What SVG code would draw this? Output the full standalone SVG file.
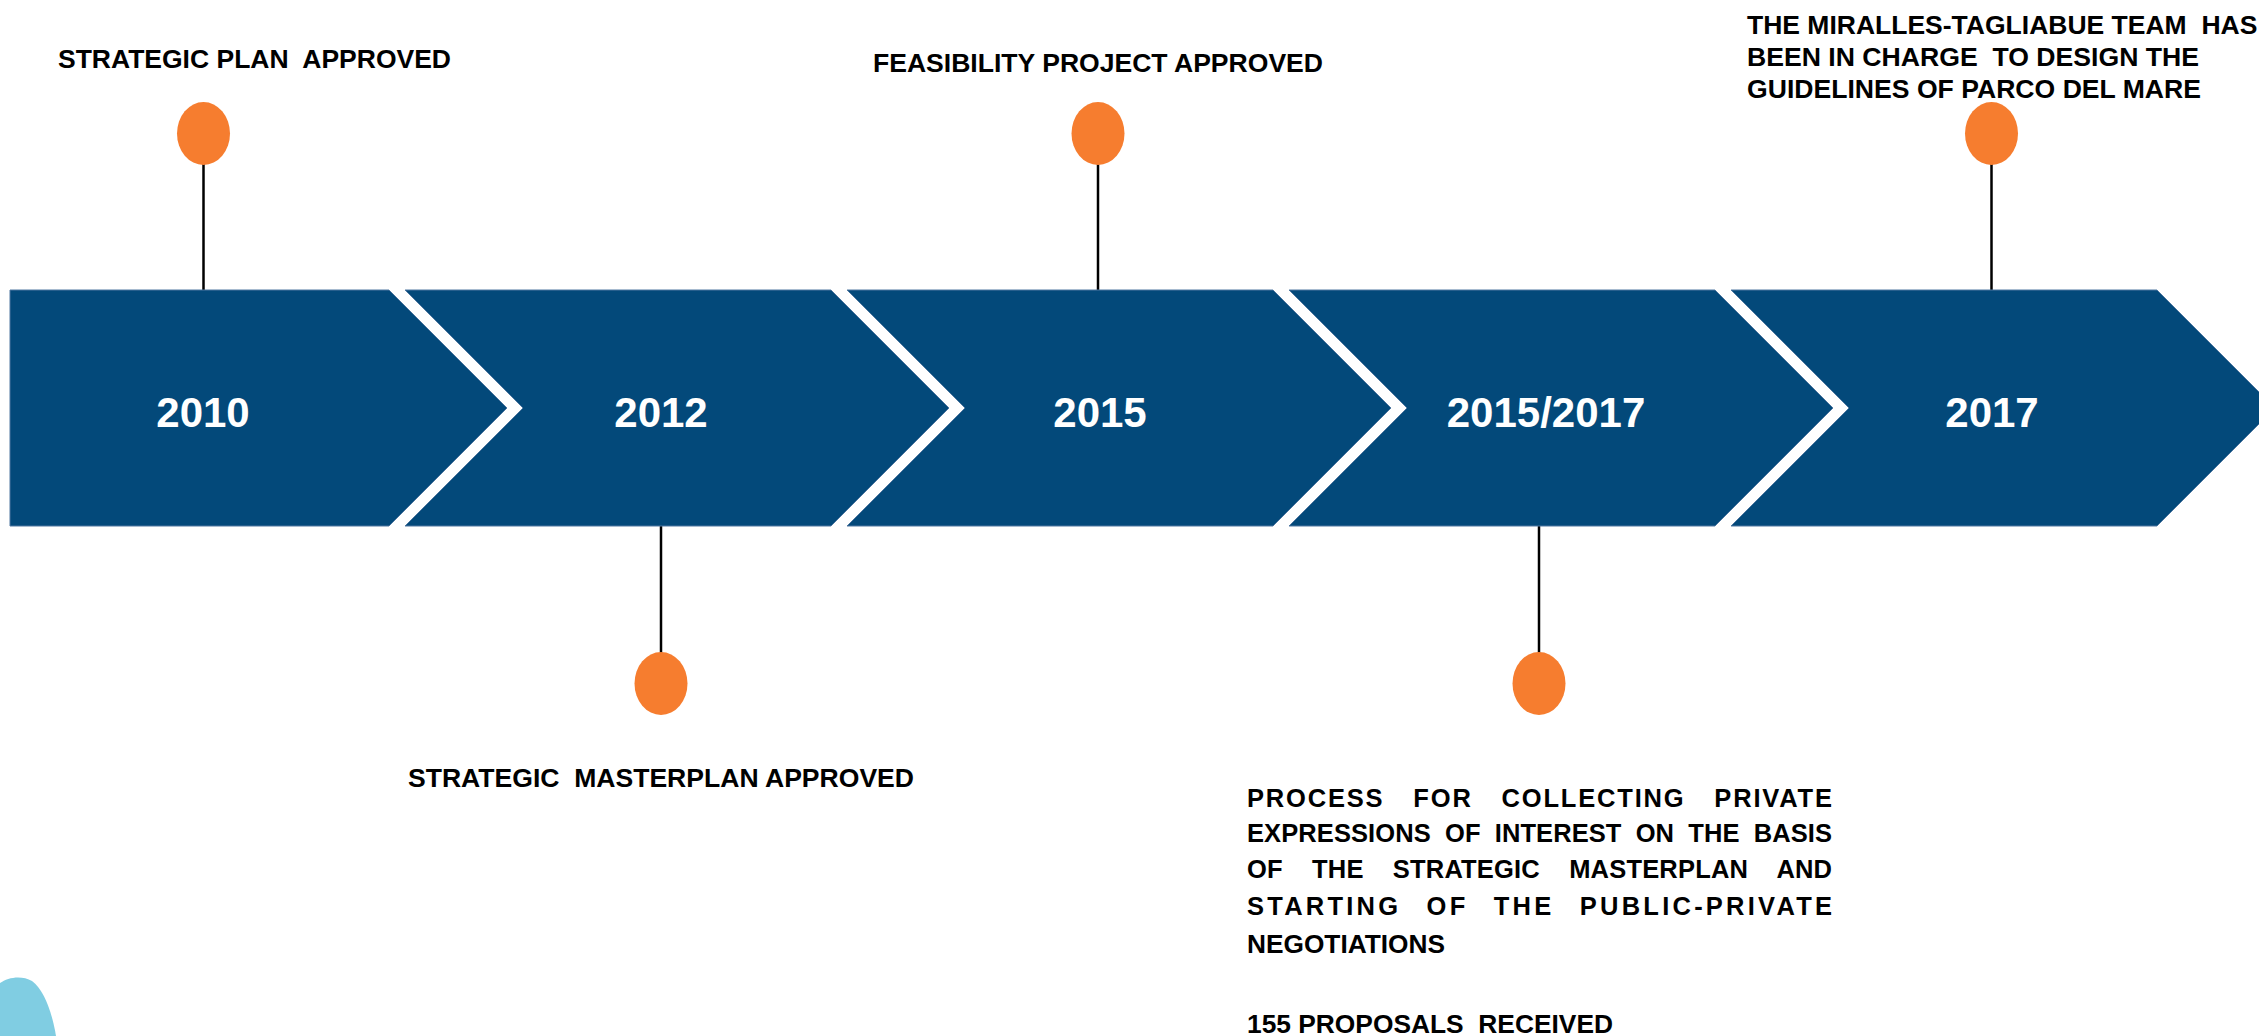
<svg xmlns="http://www.w3.org/2000/svg" width="2259" height="1036" viewBox="0 0 2259 1036">
<style>
.band{fill:#03497a;stroke:#4f77a0;stroke-width:1}
.year{font-family:"Liberation Sans",Arial,sans-serif;font-weight:bold;font-size:42px;fill:#ffffff;text-anchor:middle}
.lbl{font-family:"Liberation Sans",Arial,sans-serif;font-weight:bold;font-size:26.5px;fill:#000000;white-space:pre}
.para{font-family:"Liberation Sans",Arial,sans-serif;font-weight:bold;font-size:25.5px;fill:#000000;white-space:pre}
.dot{fill:#f67d2f}
.stem{stroke:#000000;stroke-width:2.5;fill:none}
</style>
<rect x="0" y="0" width="2259" height="1036" fill="#ffffff"/>
<path d="M0,983 C8,977 22,975 32,981 C44,990 52,1012 56,1036 L0,1036 Z" fill="#80cde2"/>
<g id="connectors">
<line class="stem" x1="203.5" y1="160" x2="203.5" y2="290"/>
<line class="stem" x1="661" y1="526" x2="661" y2="656"/>
<line class="stem" x1="1098" y1="160" x2="1098" y2="290"/>
<line class="stem" x1="1539" y1="526" x2="1539" y2="656"/>
<line class="stem" x1="1991.5" y1="160" x2="1991.5" y2="290"/>
</g>
<g id="node-2010">
<polygon class="band" points="10,290 389,290 507,408 389,526 10,526"/>
<text class="year" x="203" y="427">2010</text>
</g>
<g id="node-2012">
<polygon class="band" points="405,290 831,290 949,408 831,526 405,526 523,408"/>
<text class="year" x="661" y="427">2012</text>
</g>
<g id="node-2015">
<polygon class="band" points="847,290 1273,290 1391,408 1273,526 847,526 965,408"/>
<text class="year" x="1100" y="427">2015</text>
</g>
<g id="node-2015-2017">
<polygon class="band" points="1289,290 1715,290 1833,408 1715,526 1289,526 1407,408"/>
<text class="year" x="1546" y="427">2015/2017</text>
</g>
<g id="node-2017">
<polygon class="band" points="1731,290 2157,290 2275,408 2157,526 1731,526 1849,408"/>
<text class="year" x="1992" y="427">2017</text>
</g>
<g id="event-strategic-plan">
<ellipse class="dot" cx="203.5" cy="133.5" rx="26.5" ry="31.5"/>
<text class="lbl" xml:space="preserve" x="58" y="68" textLength="393" lengthAdjust="spacingAndGlyphs">STRATEGIC PLAN  APPROVED</text>
</g>
<g id="event-strategic-masterplan">
<ellipse class="dot" cx="661" cy="683.5" rx="26.5" ry="31.5"/>
<text class="lbl" xml:space="preserve" x="408" y="787" textLength="506" lengthAdjust="spacingAndGlyphs">STRATEGIC  MASTERPLAN APPROVED</text>
</g>
<g id="event-feasibility">
<ellipse class="dot" cx="1098" cy="133.5" rx="26.5" ry="31.5"/>
<text class="lbl" x="873" y="72" textLength="450" lengthAdjust="spacingAndGlyphs">FEASIBILITY PROJECT APPROVED</text>
</g>
<g id="event-process">
<ellipse class="dot" cx="1539" cy="683.5" rx="26.5" ry="31.5"/>
<text class="para" x="1247" y="807" word-spacing="20" textLength="585" lengthAdjust="spacing">PROCESS FOR COLLECTING PRIVATE</text>
<text class="para" x="1247" y="842" word-spacing="7" textLength="585" lengthAdjust="spacing">EXPRESSIONS OF INTEREST ON THE BASIS</text>
<text class="para" x="1247" y="878" word-spacing="22" textLength="585" lengthAdjust="spacing">OF THE STRATEGIC MASTERPLAN AND</text>
<text class="para" x="1247" y="915" word-spacing="15" textLength="585" lengthAdjust="spacing">STARTING OF THE PUBLIC-PRIVATE</text>
<text class="para" x="1247" y="953" textLength="198" lengthAdjust="spacingAndGlyphs">NEGOTIATIONS</text>
<text class="para" xml:space="preserve" x="1247" y="1033" textLength="366" lengthAdjust="spacingAndGlyphs">155 PROPOSALS  RECEIVED</text>
</g>
<g id="event-miralles">
<ellipse class="dot" cx="1991.5" cy="133.5" rx="26.5" ry="31.5"/>
<text class="lbl" xml:space="preserve" x="1747" y="34">THE MIRALLES-TAGLIABUE TEAM  HAS</text>
<text class="lbl" xml:space="preserve" x="1747" y="66" textLength="452" lengthAdjust="spacingAndGlyphs">BEEN IN CHARGE  TO DESIGN THE</text>
<text class="lbl" x="1747" y="98" textLength="454" lengthAdjust="spacingAndGlyphs">GUIDELINES OF PARCO DEL MARE</text>
</g>
</svg>
